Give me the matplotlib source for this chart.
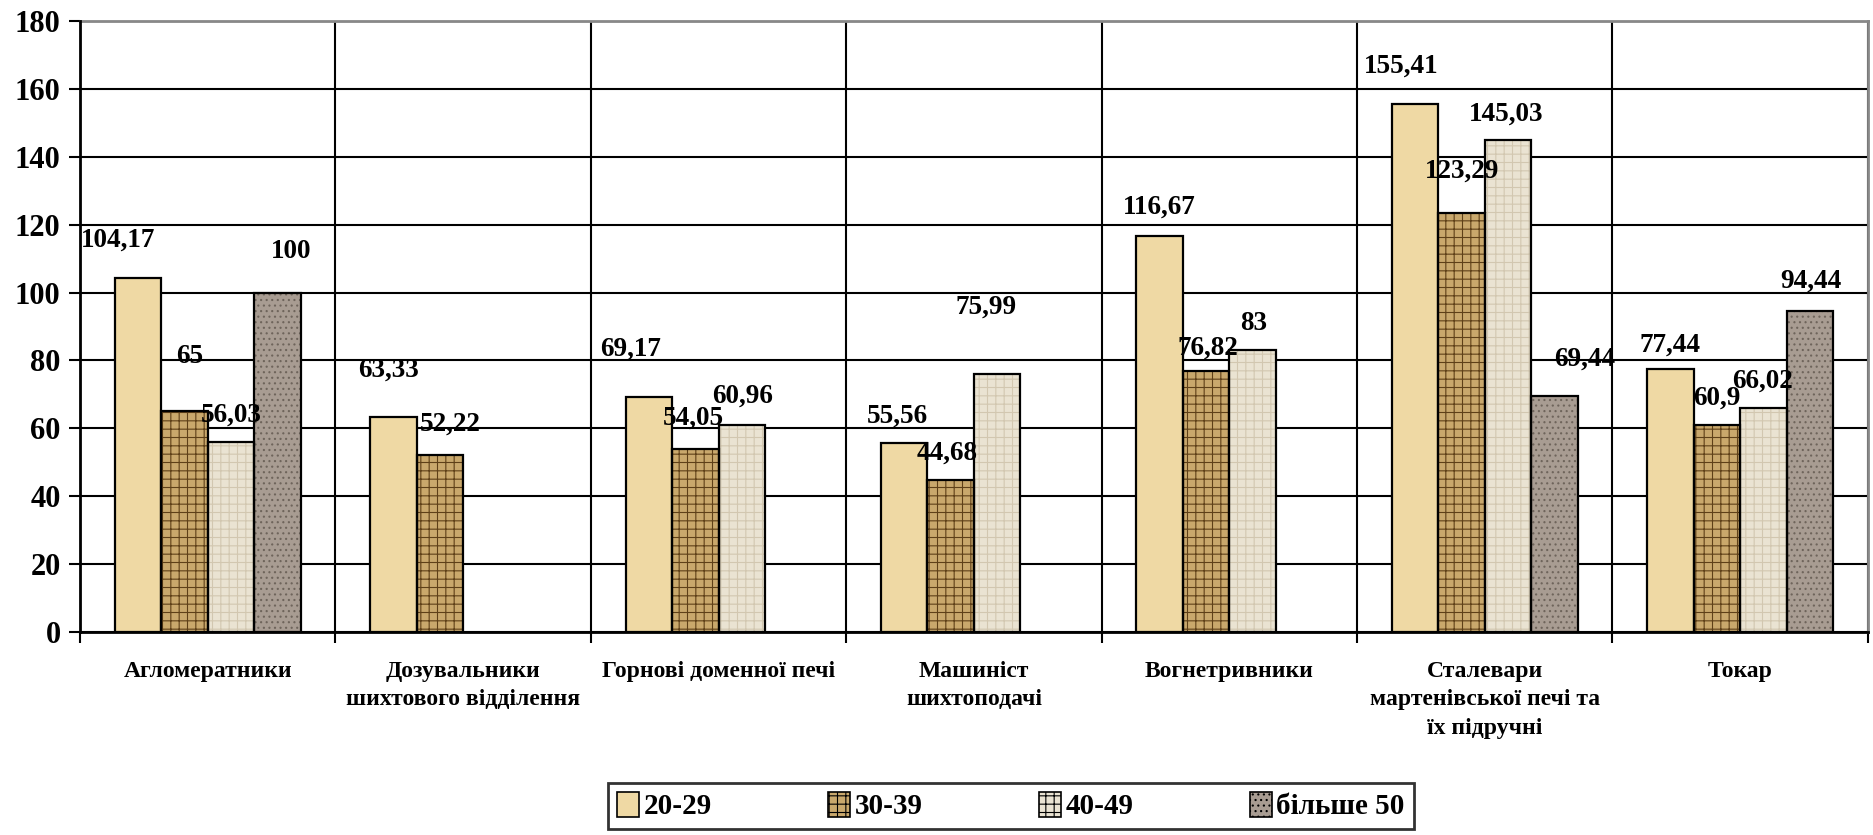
import numpy as np
import matplotlib.pyplot as plt
from matplotlib.patches import Patch

plt.rcParams['font.family'] = ['Liberation Serif', 'DejaVu Serif']
plt.rcParams['font.weight'] = 'bold'
plt.rcParams['hatch.linewidth'] = 0.8

categories = ['Агломератники', 'Дозувальники\nшихтового відділення', 'Горнові доменної печі',
              'Машиніст\nшихтоподачі', 'Вогнетривники', 'Сталевари\nмартенівської печі та\nїх підручні',
              'Токар']
series = ['20-29', '30-39', '40-49', 'більше 50']
# None = no bar in that group
v20_29 = [104.17, 63.33, 69.17, 55.56, 116.67, 155.41, 77.44]
v30_39 = [65, 52.22, 54.05, 44.68, 76.82, 123.29, 60.9]
v40_49 = [56.03, None, 60.96, 75.99, 83, 145.03, 66.02]
v50 = [100, None, None, None, None, 69.44, 94.44]
values = [v20_29, v30_39, v40_49, v50]

# label offsets (pixels) relative to the top centre of each bar
label_shift = [
    [(-20, 38), (-5, 47), (-18, 48), (-7, 27), (0, 29), (-14, 38), (0, 24)],
    [(5, 55), (10, 31), (-2, 30), (-4, 27), (2, 23), (1, 42), (0, 27)],
    [(0, 27), None, (1, 29), (-11, 67), (1, 27), (-2, 25), (-1, 27)],
    [(14, 41), None, None, None, None, (30, 37), (1, 30)],
]

faces = ['#EFD9A4', '#C9A86C', '#EAE3D2', '#A89C92']
hatch_cols = ['#E2C98E', '#5E4018', '#D2C7B0', '#6E645B']
hatches = ['', '++', '++', '...']

fig = plt.figure(figsize=(18.74, 8.35), dpi=100)
ax = fig.add_axes([0.0427, 0.243, 0.954, 0.732])

x = np.arange(len(categories))
w = 0.182
for i, vals in enumerate(values):
    pos = x + (i - 1.5) * w
    for j, v in enumerate(vals):
        if v is None:
            continue
        ax.bar(pos[j], v, width=w, color=faces[i], edgecolor=hatch_cols[i],
               hatch=hatches[i], linewidth=0, zorder=3)
        ax.bar(pos[j], v, width=w, fill=False, edgecolor='black', linewidth=1.6, zorder=4)
        dx, dy = label_shift[i][j]
        txt = f'{v:g}'.replace('.', ',')
        ax.annotate(txt, (pos[j], v), xytext=(dx, dy), textcoords='offset pixels',
                    ha='center', va='center', fontsize=19.5, fontweight='bold', zorder=5)

ax.set_xlim(-0.5, len(categories) - 0.5)
ax.set_ylim(0, 180)
ax.set_yticks(np.arange(0, 181, 20))
ax.tick_params(axis='y', labelsize=22, length=8, width=1.5, direction='out', pad=6)
ax.set_xticks(x)
ax.set_xticklabels(categories, fontsize=17, fontweight='bold', linespacing=1.45)
ax.tick_params(axis='x', length=0, pad=21)
ax.set_xticks(np.arange(-0.5, len(categories), 1), minor=True)
ax.tick_params(axis='x', which='minor', length=8, width=1.5, direction='out')

ax.yaxis.grid(True, color='black', linewidth=1.5, zorder=0)
ax.xaxis.grid(True, which='minor', color='black', linewidth=1.5, zorder=0)
ax.set_axisbelow(True)
for s in ['left', 'bottom']:
    ax.spines[s].set_linewidth(2)
    ax.spines[s].set_zorder(6)
for s in ['top', 'right']:
    ax.spines[s].set_color('#888888')
    ax.spines[s].set_linewidth(2)

handles = [Patch(facecolor=faces[i], edgecolor='black', hatch=hatches[i], linewidth=1.2)
           for i in range(4)]
leg = fig.legend(handles, series, loc='center', bbox_to_anchor=(0.5395, 0.0345), ncol=4,
                 prop={'size': 21, 'weight': 'bold'}, frameon=True, fancybox=False,
                 handlelength=0.75, handleheight=0.95, handletextpad=0.15, columnspacing=4.0,
                 borderpad=0.3, borderaxespad=0)
leg.get_frame().set_edgecolor('black')
leg.get_frame().set_linewidth(2)

fig.savefig('out.png', dpi=100)
